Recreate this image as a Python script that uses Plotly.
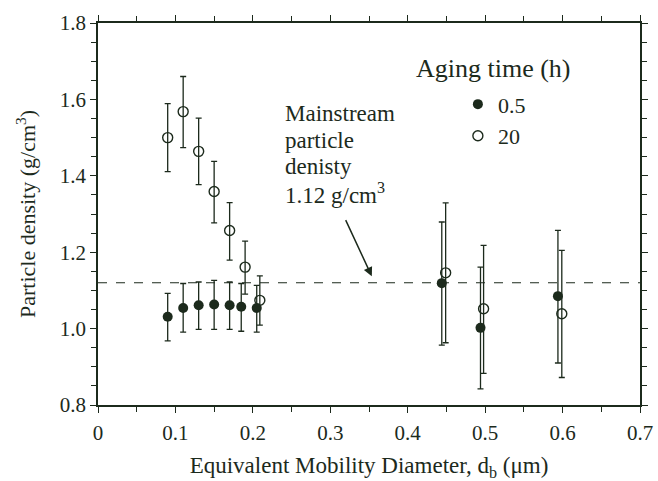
import plotly.graph_objects as go

# ---- data ----
x_05 = [0.090, 0.110, 0.130, 0.150, 0.170, 0.185, 0.205, 0.444, 0.494, 0.594]
y_05 = [1.031, 1.054, 1.061, 1.063, 1.061, 1.057, 1.054, 1.119, 1.002, 1.085]
up_05 = [1.092, 1.118, 1.122, 1.126, 1.122, 1.118, 1.113, 1.279, 1.161, 1.257]
lo_05 = [0.968, 0.991, 0.998, 0.998, 0.998, 0.993, 0.991, 0.957, 0.842, 0.910]

x_20 = [0.090, 0.110, 0.130, 0.150, 0.170, 0.190, 0.209, 0.449, 0.498, 0.599]
y_20 = [1.500, 1.568, 1.464, 1.359, 1.257, 1.161, 1.074, 1.146, 1.052, 1.039]
up_20 = [1.589, 1.660, 1.551, 1.438, 1.330, 1.229, 1.138, 1.329, 1.218, 1.205]
lo_20 = [1.411, 1.474, 1.377, 1.277, 1.179, 1.090, 1.009, 0.963, 0.883, 0.872]

mainstream_density = 1.12
note_lines = ["Mainstream", "particle", "denisty", "1.12 g/cm<sup>3</sup>"]
x_ticks = [0, 0.1, 0.2, 0.3, 0.4, 0.5, 0.6, 0.7]
x_ticktext = ["0", "0.1", "0.2", "0.3", "0.4", "0.5", "0.6", "0.7"]
y_ticks = [0.8, 1.0, 1.2, 1.4, 1.6, 1.8]
y_ticktext = ["0.8", "1.0", "1.2", "1.4", "1.6", "1.8"]

INK = "#1c2a1c"
FONT = "Liberation Serif"


def err(y, up, lo):
    return [u - v for u, v in zip(up, y)], [v - l for v, l in zip(y, lo)]


e05p, e05m = err(y_05, up_05, lo_05)
e20p, e20m = err(y_20, up_20, lo_20)

fig = go.Figure()
fig.add_hline(y=mainstream_density, line=dict(color=INK, width=1.2, dash="dash"))

fig.add_trace(go.Scatter(
    x=x_20, y=y_20, mode="markers", name="20",
    marker=dict(symbol="circle-open", size=10, color=INK, line=dict(width=1.4, color=INK)),
    error_y=dict(type="data", symmetric=False, array=e20p, arrayminus=e20m,
                 color=INK, thickness=1.3, width=3),
))
fig.add_trace(go.Scatter(
    x=x_05, y=y_05, mode="markers", name="0.5",
    marker=dict(symbol="circle", size=10, color=INK),
    error_y=dict(type="data", symmetric=False, array=e05p, arrayminus=e05m,
                 color=INK, thickness=1.3, width=3),
))

axis_common = dict(
    showline=True, linecolor=INK, linewidth=1.5, mirror="ticks",
    ticks="outside", ticklen=6, tickwidth=1.3, tickcolor=INK,
    showgrid=False, zeroline=False, automargin=False,
    tickfont=dict(family=FONT, size=21, color=INK),
)

fig.update_xaxes(
    range=[0, 0.7], tickmode="array", tickvals=x_ticks, ticktext=x_ticktext,
    minor=dict(dtick=0.05, ticks="outside", ticklen=5, tickwidth=1.2, tickcolor=INK),
    title=dict(text="Equivalent Mobility Diameter, d<sub>b</sub> (μm)",
               font=dict(family=FONT, size=23, color=INK), standoff=22),
    ticklabelstandoff=2,
    **axis_common,
)
fig.update_yaxes(
    range=[0.8, 1.8], tickmode="array", tickvals=y_ticks, ticktext=y_ticktext,
    minor=dict(dtick=0.05, ticks="outside", ticklen=5, tickwidth=1.2, tickcolor=INK),
    title=dict(text="Particle density (g/cm<sup>3</sup>)",
               font=dict(family=FONT, size=22, color=INK), standoff=18),
    **axis_common,
)

# annotation text lines
note_y = [1.562, 1.492, 1.424, 1.354]
for t, yy in zip(note_lines, note_y):
    fig.add_annotation(x=0.239, y=yy, xref="x", yref="y", text=t, showarrow=False,
                       xanchor="left", yanchor="middle",
                       font=dict(family=FONT, size=23, color=INK))

# arrow
fig.add_annotation(x=0.3536, y=1.137, ax=0.319, ay=1.288, xref="x", yref="y",
                   axref="x", ayref="y", text="", showarrow=True,
                   arrowhead=2, arrowsize=1.2, arrowwidth=1.5, arrowcolor=INK)

# legend title
fig.add_annotation(x=0.511, y=1.680, xref="x", yref="y", text="Aging time (h)",
                   showarrow=False, xanchor="center", yanchor="middle",
                   font=dict(family=FONT, size=26, color=INK))

fig.update_layout(
    width=658, height=481,
    margin=dict(l=98, r=18, t=23, b=76),
    plot_bgcolor="white", paper_bgcolor="white",
    showlegend=True,
    legend=dict(x=0.664, y=0.842, xanchor="left", yanchor="top",
                traceorder="reversed", bgcolor="rgba(0,0,0,0)",
                font=dict(family=FONT, size=22, color=INK),
                itemwidth=30, tracegroupgap=0),
)

fig.write_html("out.html")
